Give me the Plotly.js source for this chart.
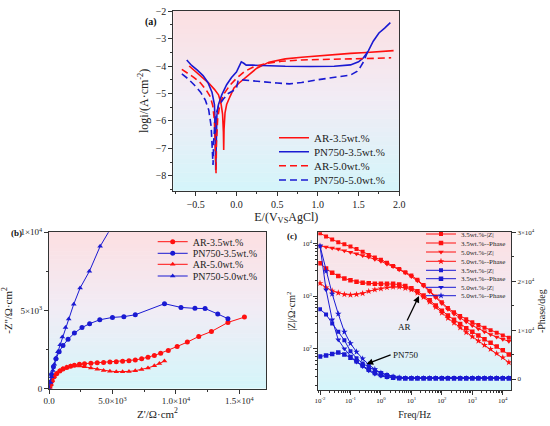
<!DOCTYPE html>
<html><head><meta charset="utf-8">
<script src="https://cdn.plot.ly/plotly-3.0.1.min.js"></script>
<style>html,body{margin:0;padding:0;background:#fff}#chart{width:550px;height:426px}</style>
</head><body><div id="chart"></div>
<script>
// ---------- Panel (a): potentiodynamic polarization ----------
const potAR35 = [-0.58,-0.50,-0.42,-0.34,-0.27,-0.22,-0.19,-0.17,-0.160,-0.156,-0.152,-0.14,-0.12,-0.08,-0.03,0.04,0.12,0.25,0.40,0.60,0.80,1.00,1.20,1.40,1.60,1.80,1.93];
const logiAR35 = [-4.00,-4.20,-4.42,-4.62,-4.85,-5.05,-5.35,-5.75,-6.40,-7.05,-6.30,-5.70,-5.40,-5.12,-4.80,-4.60,-4.40,-4.08,-3.86,-3.74,-3.68,-3.63,-3.58,-3.54,-3.51,-3.47,-3.44];
const potPN35 = [-0.61,-0.55,-0.48,-0.41,-0.35,-0.30,-0.27,-0.26,-0.254,-0.25,-0.24,-0.22,-0.18,-0.12,-0.06,0.00,0.03,0.06,0.09,0.12,0.20,0.35,0.60,0.90,1.20,1.40,1.50,1.56,1.62,1.68,1.75,1.82,1.89];
const logiPN35 = [-3.78,-3.98,-4.15,-4.35,-4.60,-4.95,-5.40,-6.20,-7.78,-6.60,-5.80,-5.40,-5.05,-4.68,-4.42,-4.22,-4.05,-3.85,-3.90,-3.97,-3.97,-3.99,-4.01,-4.02,-4.01,-3.96,-3.85,-3.70,-3.45,-3.10,-2.80,-2.62,-2.42];
const potAR50 = [-0.67,-0.60,-0.52,-0.44,-0.37,-0.32,-0.29,-0.27,-0.26,-0.25,-0.245,-0.23,-0.20,-0.15,-0.08,0.00,0.10,0.20,0.35,0.55,0.80,1.00,1.20,1.40,1.60,1.80,1.90];
const logiAR50 = [-4.12,-4.25,-4.42,-4.62,-4.88,-5.12,-5.45,-6.00,-6.80,-7.90,-6.80,-5.90,-5.35,-5.00,-4.70,-4.45,-4.20,-4.05,-3.92,-3.83,-3.78,-3.76,-3.75,-3.74,-3.73,-3.71,-3.70];
const potPN50 = [-0.67,-0.60,-0.52,-0.44,-0.38,-0.34,-0.31,-0.295,-0.287,-0.28,-0.26,-0.22,-0.16,-0.10,-0.04,0.00,0.02,0.05,0.15,0.30,0.50,0.65,0.80,1.00,1.20,1.40,1.48,1.52,1.56,1.60,1.62];
const logiPN50 = [-4.29,-4.45,-4.68,-4.95,-5.25,-5.60,-6.20,-6.90,-7.60,-6.80,-5.85,-5.45,-5.20,-5.00,-4.90,-4.80,-4.55,-4.50,-4.53,-4.57,-4.62,-4.65,-4.60,-4.50,-4.42,-4.33,-4.20,-4.05,-3.85,-3.55,-3.42];

// ---------- Panel (b): Nyquist ----------
const zreAR35 = [80,150,250,400,600,850,1100,1400,1700,2000,2400,2800,3300,3800,4300,4800,5300,5800,6300,6800,7300,7800,8300,8800,9400,10100,10900,11800,12800,14100,15400];
const zimAR35 = [0,250,500,750,950,1120,1250,1350,1430,1490,1550,1590,1620,1650,1670,1690,1710,1740,1780,1830,1900,2000,2120,2260,2440,2690,2970,3330,3650,4230,4570];
const zrePN35 = [0,80,200,350,550,800,1100,1500,2000,2600,3200,4000,5000,5900,6800,9100,10400,11500,12300,13300,14100];
const zimPN35 = [0,400,900,1400,1900,2350,2750,3150,3550,3900,4150,4400,4550,4600,4720,5430,5190,5130,5120,4770,4470];
const zreAR50 = [80,150,250,400,600,850,1100,1400,1700,2000,2400,2800,3300,3800,4300,4800,5300,5800,6300,6800,7300,7800,8300,8700,9100];
const zimAR50 = [0,250,500,760,970,1150,1280,1380,1440,1460,1440,1390,1310,1230,1160,1110,1080,1070,1090,1140,1220,1320,1450,1600,1760];
const zrePN50 = [0,100,200,300,420,550,700,880,1050,1300,1550,1950,2450,3180,4030,4900];
const zimPN50 = [0,380,760,1150,1550,1950,2350,2800,3300,3900,4450,5400,6430,7500,9100,10300];

// ---------- Panel (c): Bode ----------
const freq = [0.01,0.0158,0.0251,0.0398,0.0631,0.1,0.158,0.251,0.398,0.631,1,1.58,2.51,3.98,6.31,10,15.8,25.1,39.8,63.1,100,158,251,398,631,1000,1580,2510,3980,6310,10000,15800];
const arZ35 = [15490,13490,11750,10470,9550,8710,7760,6920,6030,5370,4900,4270,3720,3240,2820,2450,2040,1620,1260,977,759,589,490,417,363,316,282,251,224,200,178,162];
const arPh35 = [4170,3310,2750,2400,2140,2000,1860,1780,1740,1700,1700,1700,1700,1660,1550,1410,1230,1020,832,661,525,427,355,295,245,209,178,151,129,110,93,78];
const arZ50 = [8910,8510,8130,7760,7240,6760,6310,5890,5500,5010,4570,4070,3630,3160,2750,2340,1950,1550,1200,933,724,562,457,380,324,275,240,209,186,166,151,138];
const arPh50 = [1740,1450,1260,1150,1070,1050,1070,1120,1230,1320,1380,1450,1480,1480,1410,1320,1150,955,776,617,479,380,309,251,204,170,141,117,98,81,68,55];
const pnZ35 = [562,447,302,209,145,89,66,52.5,44.7,38.9,34.7,31.6,29.5,28.2,27.5,27.5,27.5,27.5,27.5,27.5,27.5,27.5,27.5,27.5,27.5,27.5,27.5,27.5,27.5,27.5,27.5,27.5];
const pnPh35 = [70.8,74.1,79.4,85.1,77.6,67.6,57.5,47.9,39.8,34.7,31.6,29.5,28.2,27.5,27.5,27.5,27.5,27.5,27.5,27.5,27.5,27.5,27.5,27.5,27.5,27.5,27.5,27.5,27.5,27.5,27.5,27.5];
const pnZ50 = [8910,1320,355,148,100,72.4,56.2,45.7,38.0,33.1,30.2,28.8,28.2,27.5,27.5,27.5,27.5,27.5,27.5,27.5,27.5,27.5,27.5,27.5,27.5,27.5,27.5,27.5,27.5,27.5,27.5,27.5];
const pnPh50 = [8910,2950,1100,457,209,126,87.1,64.6,50.1,40.7,34.7,31.6,29.5,28.2,27.5,27.5,27.5,27.5,27.5,27.5,27.5,27.5,27.5,27.5,27.5,27.5,27.5,27.5,27.5,27.5,27.5,27.5];

const namesA = ['AR-3.5wt.%','PN750-3.5wt.%','AR-5.0wt.%','PN750-5.0wt.%'];
const namesC = ['3.5wt.%-|Z|','3.5wt.%--Phase','5.0wt.%-|Z|','5.0wt.%--Phase'];
const xTicksB = [0,5000,10000,15000];
const xTextB = ['0.0','5.0×10<sup>3</sup>','1.0×10<sup>4</sup>','1.5×10<sup>4</sup>'];
const yTicksB = [0,5000,10000];
const yTextB = ['0','5×10<sup>3</sup>','1×10<sup>4</sup>'];
const xTicksC = [0.01,0.1,1,10,100,1000,10000];
const xTextC = ['10<sup>-2</sup>','10<sup>-1</sup>','10<sup>0</sup>','10<sup>1</sup>','10<sup>2</sup>','10<sup>3</sup>','10<sup>4</sup>'];
const yTicksC = [100,1000,10000];
const yTextC = ['10<sup>2</sup>','10<sup>3</sup>','10<sup>4</sup>'];
const y2TicksC = [0,10000,20000,30000];
const y2TextC = ['0','1×10<sup>4</sup>','2×10<sup>4</sup>','3×10<sup>4</sup>'];

// ---------- styling ----------
const W = 550, H = 426;
const F = 'Liberation Serif, Times New Roman, serif';
const RED = '#ff1010', BLUE = '#1a1ad2', AX = '#333';
const px = v => v / W, py = v => 1 - v / H;

function minorLog(lo, hi) { const out = []; for (let d = lo; d <= hi; d++) for (let k = 2; k <= 9; k++) out.push(k * Math.pow(10, d)); return out; }

function axisBase(size) {
  return {showline: true, mirror: true, linecolor: AX, linewidth: 1, ticks: 'outside', ticklen: 4, tickcolor: AX,
          showgrid: false, zeroline: false, automargin: false, tickfont: {family: F, size: size, color: '#222'}};
}
function legendAt(xLeft, yMid, size) {
  return {x: px(xLeft), y: py(yMid), xanchor: 'left', yanchor: 'middle', bgcolor: 'rgba(0,0,0,0)',
          borderwidth: 0, font: {family: F, size: size, color: '#222'}, tracegroupgap: 0, visible: true};
}
function gradient(xr, yr) {
  const n = 40, out = [];
  const top = [252,223,226], mid = [241,236,245], bot = [212,245,250];
  for (let i = 0; i < n; i++) {
    const t = (i + 0.5) / n;
    const a = t < 0.5 ? bot : mid, b = t < 0.5 ? mid : top, u = t < 0.5 ? t / 0.5 : (t - 0.5) / 0.5;
    const c = a.map((v, k) => Math.round(v + (b[k] - v) * u));
    out.push({type: 'rect', xref: xr + ' domain', yref: yr + ' domain', x0: 0, x1: 1, y0: i / n, y1: (i + 1) / n + 0.003,
              fillcolor: 'rgb(' + c.join(',') + ')', line: {width: 0}, layer: 'below'});
  }
  return out;
}

const traces = [];
// (a)
const seriesA = [[potAR35, logiAR35, RED, 'solid'], [potPN35, logiPN35, BLUE, 'solid'], [potAR50, logiAR50, RED, '7px,4px'], [potPN50, logiPN50, BLUE, '7px,4px']];
seriesA.forEach((s, i) => traces.push({x: s[0], y: s[1], type: 'scatter', mode: 'lines', name: namesA[i], xaxis: 'x', yaxis: 'y', showlegend: true,
  line: {color: s[2], width: 1.6, dash: s[3]}, legend: i === 0 ? 'legend' : 'legend' + (i + 1)}));
// (b)
const seriesB = [[zreAR35, zimAR35, RED, 'circle'], [zrePN35, zimPN35, BLUE, 'circle'], [zreAR50, zimAR50, RED, 'triangle-up'], [zrePN50, zimPN50, BLUE, 'triangle-up']];
seriesB.forEach((s, i) => traces.push({x: s[0], y: s[1], type: 'scatter', mode: 'lines+markers', name: namesA[i], xaxis: 'x2', yaxis: 'y2', showlegend: true,
  line: {color: s[2], width: 1}, marker: {color: s[2], size: 5, symbol: s[3]}, cliponaxis: true, legend: 'legend' + (i + 5)}));
// (c)
const seriesC = [[arZ35, RED, 'square', 4], [arPh35, RED, 'square', 4.5], [arZ50, RED, 'triangle-down', 5], [arPh50, RED, 'star', 5],
                 [pnZ35, BLUE, 'square', 4], [pnPh35, BLUE, 'square', 4.5], [pnZ50, BLUE, 'triangle-down', 5], [pnPh50, BLUE, 'star', 5]];
seriesC.forEach((s, i) => traces.push({x: freq, y: s[0], type: 'scatter', mode: 'lines+markers', name: namesC[i % 4], xaxis: 'x3', yaxis: 'y3', showlegend: true,
  line: {color: s[1], width: 1}, marker: {color: s[1], size: s[3], symbol: s[2]}, legend: 'legend' + (i + 9)}));
traces.push({x: [], y: [], type: 'scatter', xaxis: 'x3', yaxis: 'y4', showlegend: false, hoverinfo: 'skip'});

const layout = {
  width: W, height: H, margin: {l: 0, r: 0, t: 0, b: 0}, paper_bgcolor: '#fff', plot_bgcolor: '#fff',
  font: {family: F, color: '#222'}, hovermode: false, showlegend: true,
  xaxis: Object.assign(axisBase(10), {domain: [px(173.3), px(399.3)], anchor: 'y', range: [-0.775, 2.0], dtick: 0.5, tick0: 0, tickformat: '.1f',
    minor: {ticks: 'outside', ticklen: 2, dtick: 0.25, tick0: 0, tickcolor: AX},
    title: {text: 'E/(V<sub>VS</sub>AgCl)', font: {family: F, size: 12}, standoff: 0}}),
  yaxis: Object.assign(axisBase(10), {domain: [py(190.7), py(11)], anchor: 'x', range: [-8.535, -2.0], dtick: 1,
    minor: {ticks: 'outside', ticklen: 2, dtick: 0.5, tick0: 0, tickcolor: AX},
    title: {text: 'logi/(A·cm<sup>-2</sup>)', font: {family: F, size: 12}, standoff: 4}}),
  xaxis2: Object.assign(axisBase(9), {domain: [px(49), px(266)], anchor: 'y2', range: [0, 17100], tickmode: 'array', tickvals: xTicksB, ticktext: xTextB,
    minor: {ticks: 'outside', ticklen: 2, dtick: 2500, tick0: 0, tickcolor: AX},
    title: {text: "Z'/Ω·cm<sup>2</sup>", font: {family: F, size: 11}, standoff: 4}}),
  yaxis2: Object.assign(axisBase(9), {domain: [py(388.5), py(232.3)], anchor: 'x2', range: [0, 10000], tickmode: 'array', tickvals: yTicksB, ticktext: yTextB,
    minor: {ticks: 'outside', ticklen: 2, dtick: 2500, tick0: 0, tickcolor: AX},
    title: {text: "-Z''/Ω·cm<sup>2</sup>", font: {family: F, size: 11}, standoff: 13}}),
  xaxis3: Object.assign(axisBase(7), {domain: [px(318.3), px(511)], anchor: 'y3', type: 'log', range: [-2.056, 4.27], tickmode: 'array', tickvals: xTicksC, ticktext: xTextC,
    minor: {ticks: 'outside', ticklen: 2, tickvals: minorLog(-3, 4), tickcolor: AX},
    title: {text: 'Freq/Hz', font: {family: F, size: 10}, standoff: 6}}),
  yaxis3: Object.assign(axisBase(7), {domain: [py(390), py(232.3)], anchor: 'x3', type: 'log', range: [1.216, 4.209], tickmode: 'array', tickvals: yTicksC, ticktext: yTextC,
    minor: {ticks: 'outside', ticklen: 2, tickvals: minorLog(1, 4), tickcolor: AX},
    title: {text: '|Z|/Ω·cm<sup>2</sup>', font: {family: F, size: 10}, standoff: 4}}),
  yaxis4: Object.assign(axisBase(7), {overlaying: 'y3', anchor: 'x3', side: 'right', mirror: false, range: [-2250, 30050], tickmode: 'array', tickvals: y2TicksC, ticktext: y2TextC,
    minor: {ticks: 'outside', ticklen: 2, dtick: 5000, tick0: 0, tickcolor: AX},
    title: {text: '-Phase/deg', font: {family: F, size: 10}, standoff: 4}}),
  shapes: [].concat(gradient('x', 'y'), gradient('x2', 'y2'), gradient('x3', 'y3')),
  annotations: [
    {xref: 'paper', yref: 'paper', x: px(143), y: py(14), text: '<b>(a)</b>', showarrow: false, font: {family: F, size: 10, color: '#111'}},
    {xref: 'paper', yref: 'paper', x: px(9), y: py(233), text: '<b>(b)</b>', showarrow: false, font: {family: F, size: 9, color: '#111'}},
    {xref: 'paper', yref: 'paper', x: px(292), y: py(236), text: '<b>(c)</b>', showarrow: false, font: {family: F, size: 9, color: '#111'}},
    {xref: 'x3', yref: 'y3', x: 1.25, y: 3.0, ax: -15, ay: 31, text: 'AR', showarrow: true, arrowhead: 2, arrowsize: 1, arrowwidth: 1.3, arrowcolor: '#000', font: {family: F, size: 9, color: '#111'}},
    {xref: 'x3', yref: 'y3', x: -0.47, y: 1.71, ax: 24, ay: -9, xanchor: 'left', text: 'PN750', showarrow: true, arrowhead: 2, arrowsize: 1, arrowwidth: 1.3, arrowcolor: '#000', font: {family: F, size: 9, color: '#111'}}
  ]
};
// legends: one per entry for exact row spacing
const rowsA = [137.7, 151.7, 165.7, 180];
rowsA.forEach((y, i) => layout[i === 0 ? 'legend' : 'legend' + (i + 1)] = legendAt(274, y, 11));
const rowsB = [241.7, 253.3, 264.3, 276];
rowsB.forEach((y, i) => layout['legend' + (i + 5)] = legendAt(152.7, y, 10));
const rowsC = [234, 243, 252, 261.3, 270.3, 278.7, 287.3, 295.7];
rowsC.forEach((y, i) => layout['legend' + (i + 9)] = legendAt(421, y, 7));

Plotly.newPlot('chart', traces, layout, {displayModeBar: false, staticPlot: true});
</script></body></html>
